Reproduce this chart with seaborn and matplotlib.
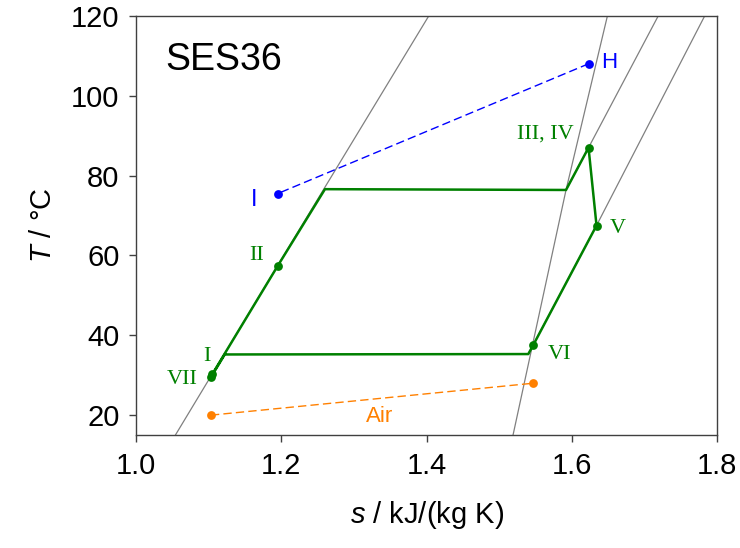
import numpy as np
import pandas as pd
import matplotlib
matplotlib.use("Agg")
import matplotlib.pyplot as plt
import seaborn as sns

# isobars (s in kJ/(kg K), T in degC)
iso1_s = [1.054, 1.258, 1.403]
iso1_T = [15.0, 76.5, 120.0]
iso2_s = [1.519, 1.592, 1.649]
iso2_T = [15.0, 76.4, 120.0]
iso3_s = [1.592, 1.623, 1.719]
iso3_T = [76.4, 87.0, 120.0]
iso4_s = [1.540, 1.634, 1.783]
iso4_T = [35.3, 67.5, 120.0]

# cycle path
cycle_s = [1.103, 1.122, 1.540, 1.547, 1.634, 1.623, 1.592, 1.260, 1.195, 1.105]
cycle_T = [29.5, 35.2, 35.3, 37.6, 67.5, 87.0, 76.4, 76.6, 57.4, 30.3]

# labelled cycle states
state_names = ["I", "II", "III, IV", "V", "VI", "VII"]
state_s = [1.105, 1.195, 1.623, 1.634, 1.547, 1.103]
state_T = [30.3, 57.4, 87.0, 67.5, 37.6, 29.5]
state_lab_s = [1.097, 1.166, 1.563, 1.663, 1.583, 1.063]
state_lab_T = [34.6, 60.0, 90.5, 66.7, 35.3, 29.0]

# heat source (H -> I) and air
hot_s = [1.623, 1.195]
hot_T = [108.0, 75.5]
air_s = [1.103, 1.547]
air_T = [20.0, 28.0]

green = "#008000"
blue = "#0000ff"
orange = "#ff8000"

sns.set_style("white")
plt.rcParams["font.family"] = ["Liberation Sans", "DejaVu Sans"]
plt.rcParams["mathtext.fontset"] = "custom"
plt.rcParams["mathtext.it"] = "Liberation Sans:italic"
plt.rcParams["mathtext.rm"] = "Liberation Sans"

fig, ax = plt.subplots(figsize=(7.4, 5.48), dpi=100)
fig.subplots_adjust(left=0.184, right=0.969, top=0.971, bottom=0.206)

for xs, ys in [(iso1_s, iso1_T), (iso2_s, iso2_T), (iso3_s, iso3_T), (iso4_s, iso4_T)]:
    sns.lineplot(x=xs, y=ys, sort=False, estimator=None, color="#808080", lw=0.9, ax=ax)

sns.lineplot(x=cycle_s, y=cycle_T, sort=False, estimator=None, color=green, lw=1.8, ax=ax)
sns.scatterplot(x=state_s, y=state_T, color=green, s=40, edgecolor=green, linewidth=0, ax=ax, zorder=5)

sns.lineplot(x=hot_s, y=hot_T, sort=False, estimator=None, color=blue, lw=1.0, ax=ax)
ax.lines[-1].set_dashes([6, 3])
sns.scatterplot(x=hot_s, y=hot_T, color=blue, s=40, linewidth=0, ax=ax, zorder=5)

sns.lineplot(x=air_s, y=air_T, sort=False, estimator=None, color=orange, lw=1.0, ax=ax)
ax.lines[-1].set_dashes([6, 3])
sns.scatterplot(x=air_s, y=air_T, color=orange, s=40, linewidth=0, ax=ax, zorder=5)

for name, xs, ys in zip(state_names, state_lab_s, state_lab_T):
    ax.text(xs, ys, name, color=green, fontsize=16, family="Liberation Serif",
            ha="center", va="center")

ax.text(1.651, 108.4, "H", color=blue, fontsize=16, ha="center", va="center")
ax.text(1.163, 74.0, "I", color=blue, fontsize=17, ha="center", va="center")
ax.text(1.335, 19.7, "Air", color=orange, fontsize=16, ha="center", va="center")
ax.text(1.040, 109.0, "SES36", color="black", fontsize=27, ha="left", va="center")

ax.set_xlim(1.0, 1.8)
ax.set_ylim(15, 120)
ax.set_xticks([1.0, 1.2, 1.4, 1.6, 1.8])
ax.set_yticks([20, 40, 60, 80, 100, 120])
ax.set_xticklabels(["1.0", "1.2", "1.4", "1.6", "1.8"])
ax.tick_params(axis="both", labelsize=21, direction="out", length=5, width=1,
               color="#404040", labelcolor="black", bottom=True, left=True, pad=7)
ax.set_xlabel(r"$s$ / kJ/(kg K)", fontsize=21, labelpad=14, color="black")
ax.set_ylabel(r"$T$ / °C", fontsize=21, labelpad=10, color="black")
for sp in ax.spines.values():
    sp.set_color("#404040")
    sp.set_linewidth(1.0)

fig.savefig("out.png", dpi=100)
